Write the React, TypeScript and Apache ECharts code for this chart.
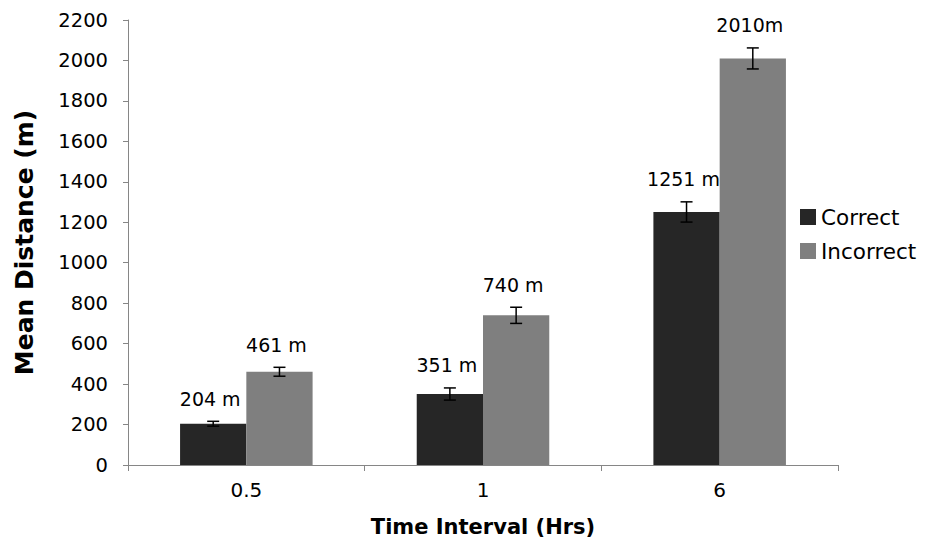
import React, { useEffect, useRef } from "react";
import * as echarts from "echarts";

const categories = ["0.5", "1", "6"];
const seriesNames = ["Correct", "Incorrect"];
const correctValues = [204, 351, 1251];
const incorrectValues = [461, 740, 2010];
const correctErrors = [12, 30, 50];
const incorrectErrors = [22, 40, 52];
const correctLabels = ["204 m", "351 m", "1251 m"];
const incorrectLabels = ["461 m", "740 m", "2010m"];
const colors = ["#262626", "#7f7f7f"];

const FONT = "DejaVu Sans";

export default function App() {
  const ref = useRef<HTMLDivElement>(null);
  useEffect(() => {
    if (!ref.current) return;
    const chart = echarts.init(ref.current, undefined, { renderer: "svg" });
    const errData: any[] = [];
    const vals = [correctValues, incorrectValues];
    const errs = [correctErrors, incorrectErrors];
    const labs = [correctLabels, incorrectLabels];
    categories.forEach((_, ci) => {
      [0, 1].forEach((si) => {
        errData.push([ci, vals[si][ci], si, errs[si][ci], labs[si][ci]]);
      });
    });
    const catGap = 0.44;
    chart.setOption({
      animation: false,
      textStyle: { fontFamily: FONT },
      grid: { left: 128, right: 88, top: 20, bottom: 79, containLabel: false },
      legend: {
        orient: "vertical",
        left: 795,
        top: 201,
        itemWidth: 16,
        itemHeight: 16,
        itemGap: 12,
        icon: "rect",
        data: seriesNames,
        textStyle: { fontFamily: FONT, fontSize: 21.5, color: "#000" },
      },
      xAxis: {
        type: "category",
        data: categories,
        name: "Time Interval (Hrs)",
        nameLocation: "middle",
        nameGap: 51,
        nameTextStyle: { fontFamily: FONT, fontSize: 21, fontWeight: "bold", color: "#000" },
        axisLine: { lineStyle: { color: "#868686", width: 1 } },
        axisTick: { show: true, length: 6, lineStyle: { color: "#868686" } },
        axisLabel: { fontFamily: FONT, fontSize: 20, color: "#000", margin: 15 },
      },
      yAxis: {
        type: "value",
        min: 0,
        max: 2200,
        interval: 200,
        name: "Mean Distance (m)",
        nameLocation: "middle",
        nameGap: 91,
        nameRotate: 90,
        nameTextStyle: { fontFamily: FONT, fontSize: 25, fontWeight: "bold", color: "#000" },
        axisLine: { show: true, lineStyle: { color: "#868686", width: 1 } },
        axisTick: { show: true, length: 5, lineStyle: { color: "#868686" } },
        splitLine: { show: false },
        axisLabel: {
          fontFamily: FONT,
          fontSize: 19.5,
          color: "#000",
          margin: 20,
          formatter: (v: number) => String(v),
        },
      },
      series: [
        {
          name: seriesNames[0],
          type: "bar",
          data: correctValues,
          barGap: "0%",
          barCategoryGap: catGap * 100 + "%",
          itemStyle: { color: colors[0] },
        },
        {
          name: seriesNames[1],
          type: "bar",
          data: incorrectValues,
          barGap: "0%",
          barCategoryGap: catGap * 100 + "%",
          itemStyle: { color: colors[1] },
        },
        {
          type: "custom",
          name: "err",
          data: errData,
          encode: { x: 0, y: 1 },
          z: 10,
          renderItem: (params: any, api: any) => {
            const ci = api.value(0);
            const v = api.value(1);
            const si = api.value(2);
            const e = api.value(3);
            const label = errData[params.dataIndex][4];
            const band = api.size([1, 0])[0];
            const bw = (band * (1 - catGap)) / 2;
            const center = api.coord([ci, v]);
            const x = center[0] + (si === 0 ? -bw / 2 : bw / 2);
            const top = api.coord([ci, v + e])[1];
            const bot = api.coord([ci, v - e])[1];
            const cap = 6;
            const st = { stroke: "#000", lineWidth: 1.5 };
            return {
              type: "group",
              children: [
                { type: "line", shape: { x1: x, y1: top, x2: x, y2: bot }, style: st },
                { type: "line", shape: { x1: x - cap, y1: top, x2: x + cap, y2: top }, style: st },
                { type: "line", shape: { x1: x - cap, y1: bot, x2: x + cap, y2: bot }, style: st },
                {
                  type: "text",
                  x: x - 3,
                  y: top - 13,
                  style: {
                    text: label,
                    fill: "#000",
                    font: `19px ${FONT}`,
                    textAlign: "center",
                    textVerticalAlign: "bottom",
                  },
                },
              ],
            };
          },
        },
      ],
    });
    return () => chart.dispose();
  }, []);
  return <div ref={ref} style={{ position: "absolute", left: 0, top: 0, width: 926, height: 544 }} />;
}
